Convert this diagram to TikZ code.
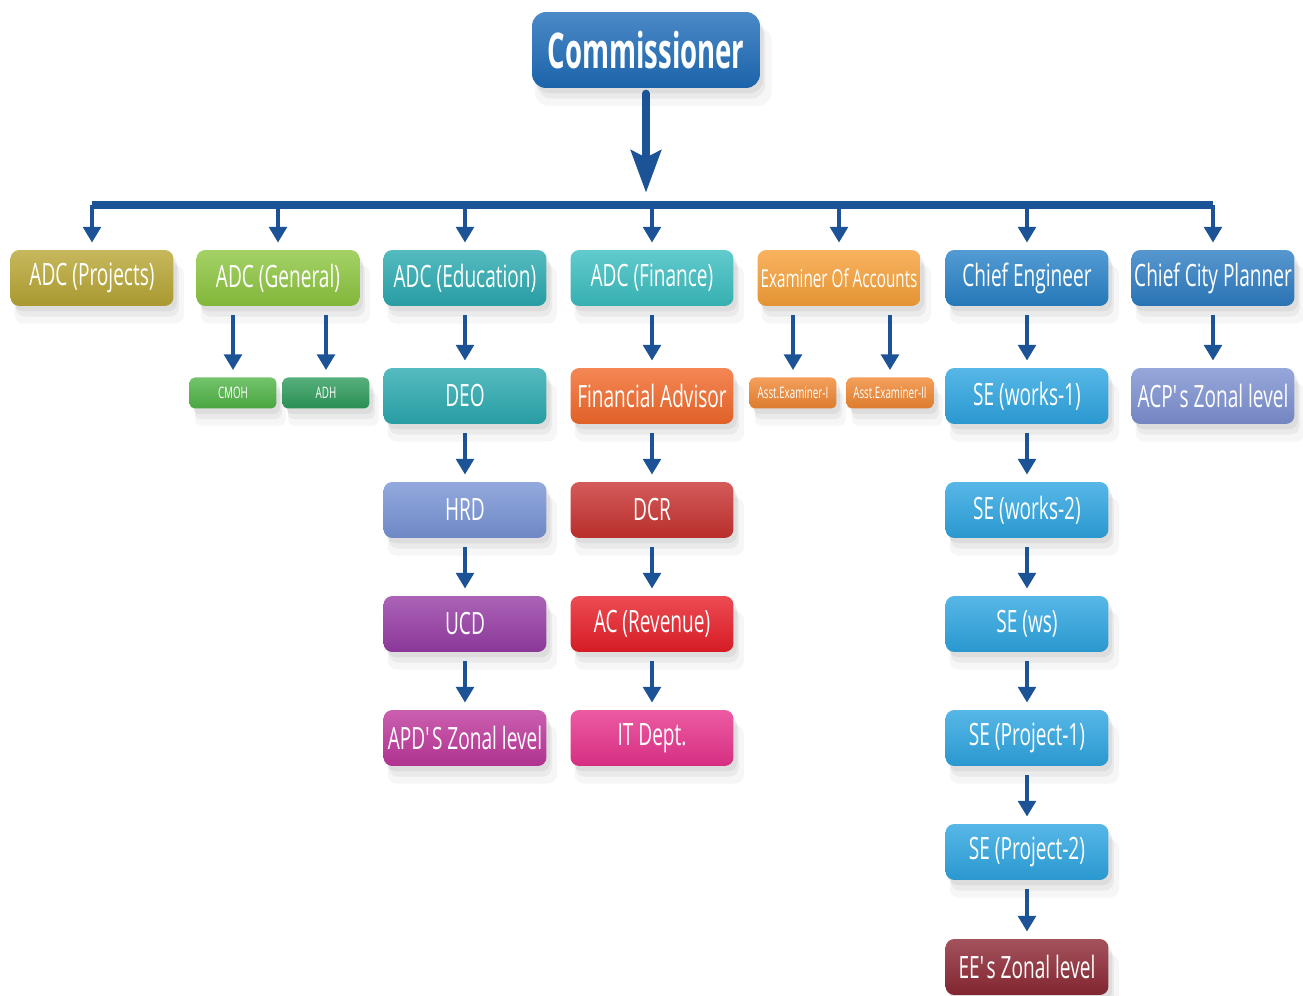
\documentclass[tikz,border=0pt]{standalone}
\usepackage{fontspec}
\setmainfont{Open Sans}[FakeStretch=0.62]
\newfontfamily\commfont{Open Sans}[FakeStretch=0.56]
\usetikzlibrary{arrows.meta,shadows}

\definecolor{commblue}{RGB}{30,108,185}
\definecolor{arrowblue}{RGB}{28,82,150}
\definecolor{olivebox}{RGB}{184,166,52}
\definecolor{limebox}{RGB}{141,198,63}
\definecolor{tealbox}{RGB}{42,170,176}
\definecolor{cyanbox}{RGB}{58,190,192}
\definecolor{orangebox}{RGB}{247,160,56}
\definecolor{engblue}{RGB}{40,130,200}
\definecolor{planblue}{RGB}{45,125,195}
\definecolor{cmohgreen}{RGB}{80,180,70}
\definecolor{adhgreen}{RGB}{45,155,90}
\definecolor{faorange}{RGB}{242,105,42}
\definecolor{asstorange}{RGB}{240,135,50}
\definecolor{seblue}{RGB}{45,165,225}
\definecolor{acpblue}{RGB}{125,145,210}
\definecolor{hrdblue}{RGB}{120,148,214}
\definecolor{dcrred}{RGB}{200,50,48}
\definecolor{ucdpurple}{RGB}{150,60,165}
\definecolor{acred}{RGB}{232,30,40}
\definecolor{apdmagenta}{RGB}{190,55,155}
\definecolor{itpink}{RGB}{232,50,140}
\definecolor{eered}{RGB}{140,40,52}

\begin{document}
\begin{tikzpicture}[x=0.02cm, y=-0.02cm,
    softshadow/.style={
        drop shadow={opacity=0.07, shadow xshift=4pt, shadow yshift=-9pt, shadow scale=1.04},
        drop shadow={opacity=0.10, shadow xshift=3pt, shadow yshift=-6pt},
        drop shadow={opacity=0.12, shadow xshift=2pt, shadow yshift=-3pt}},
    box/.style={rectangle, rounded corners=5pt, text=white,
        top color=#1!80!white, bottom color=#1!92!black,
        minimum width=3.26cm, minimum height=1.12cm, inner sep=1pt,
        font=\fontsize{17.5}{18}\selectfont, softshadow},
    smallbox/.style={box=#1, minimum width=1.74cm, minimum height=0.62cm,
        rounded corners=3pt, font=\fontsize{9}{10}\selectfont},
    arr/.style={arrowblue, line width=2.8pt, -{Triangle[width=10pt,length=9pt]},
        shorten <=5pt, shorten >=4pt},
    busline/.style={arrowblue, line width=4.5pt},
    bigarr/.style={arrowblue, line width=4.5pt, line cap=round,
        -{Stealth[width=17pt,length=24pt,inset=4pt]},
        shorten <=3pt, shorten >=7pt}
]
    \useasboundingbox (0,0) rectangle (1303,996);

    % ==========================================
    % --- Commissioner ---
    % ==========================================
    \node[box=commblue, minimum width=4.56cm, minimum height=1.52cm, rounded corners=8pt,
        font=\commfont\bfseries\fontsize{28}{30}\selectfont] (comm) at (646,50) {Commissioner};
    \coordinate (bus) at (646,205);

    % ==========================================
    % --- Top level ---
    % ==========================================
    \node[box=olivebox] (adcproj) at (92,278) {ADC (Projects)};
    \node[box=limebox] (adcgen) at (278,278) {ADC (General)};
    \node[box=tealbox] (adcedu) at (465,278) {ADC (Education)};
    \node[box=cyanbox] (adcfin) at (652,278) {ADC (Finance)};
    \node[box=orangebox, font=\fontsize{14}{15}\selectfont] (exam) at (839,278) {Examiner Of Accounts};
    \node[box=engblue] (chiefeng) at (1027,278) {Chief Engineer};
    \node[box=planblue] (ccp) at (1213,278) {Chief City Planner};

    % ==========================================
    % --- Second level ---
    % ==========================================
    \node[smallbox=cmohgreen] (cmoh) at (233,393) {CMOH};
    \node[smallbox=adhgreen] (adh) at (326,393) {ADH};
    \node[box=tealbox] (deo) at (465,396) {DEO};
    \node[box=faorange] (finadv) at (652,396) {Financial Advisor};
    \node[smallbox=asstorange] (asst1) at (793,393) {Asst.Examiner-I};
    \node[smallbox=asstorange] (asst2) at (890,393) {Asst.Examiner-II};
    \node[box=seblue] (sew1) at (1027,396) {SE (works-1)};
    \node[box=acpblue] (acp) at (1213,396) {ACP\textquotesingle s Zonal level};

    % --- Education / Finance / Engineering chains ---
    \node[box=hrdblue] (hrd) at (465,510) {HRD};
    \node[box=ucdpurple] (ucd) at (465,624) {UCD};
    \node[box=apdmagenta] (apd) at (465,738) {APD\textquotesingle S Zonal level};

    \node[box=dcrred] (dcr) at (652,510) {DCR};
    \node[box=acred] (acrev) at (652,624) {AC (Revenue)};
    \node[box=itpink] (itdept) at (652,738) {IT Dept.};

    \node[box=seblue] (sew2) at (1027,510) {SE (works-2)};
    \node[box=seblue] (sews) at (1027,624) {SE (ws)};
    \node[box=seblue] (sep1) at (1027,738) {SE (Project-1)};
    \node[box=seblue] (sep2) at (1027,852) {SE (Project-2)};
    \node[box=eered] (ee) at (1027,967) {EE\textquotesingle s Zonal level};

    % ==========================================
    % --- Connectors ---
    % ==========================================
    \draw[bigarr] (comm.south) -- (bus);
    \draw[busline] (adcproj.north |- bus) -- (ccp.north |- bus);

    \foreach \b in {adcproj, adcgen, adcedu, adcfin, exam, chiefeng, ccp} {
        \draw[arr, shorten <=0pt] (\b.north |- bus) -- (\b.north);
    }

    \foreach \a/\b in {adcgen/cmoh, adcgen/adh, adcedu/deo, deo/hrd, hrd/ucd, ucd/apd,
        adcfin/finadv, finadv/dcr, dcr/acrev, acrev/itdept,
        exam/asst1, exam/asst2,
        chiefeng/sew1, sew1/sew2, sew2/sews, sews/sep1, sep1/sep2, sep2/ee,
        ccp/acp} {
        \draw[arr] (\b.north |- \a.south) -- (\b.north);
    }

\end{tikzpicture}
\end{document}
